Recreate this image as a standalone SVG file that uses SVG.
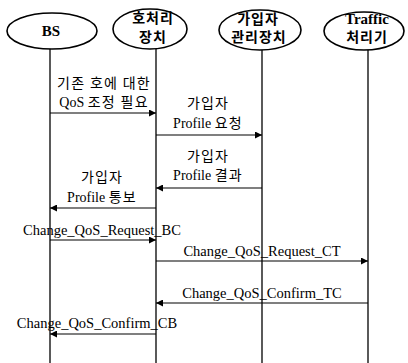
<svg xmlns="http://www.w3.org/2000/svg" width="408" height="363" viewBox="0 0 408 363">
<defs>
<marker id="ah" viewBox="0 0 10 10" refX="10" refY="5" markerWidth="9" markerHeight="7" markerUnits="userSpaceOnUse" orient="auto">
<path d="M0,0 L10,5 L0,10 z" fill="#000"/>
</marker>
</defs>
<style>
.node ellipse{fill:#fff;stroke:#000;stroke-width:1.6}
.life{stroke:#000;stroke-width:1.3;fill:none}
.msg{stroke:#000;stroke-width:1.1;fill:none;marker-end:url(#ah)}
text{font-family:"Liberation Serif","Noto Sans CJK KR",serif;fill:#000;text-anchor:middle}
.t{font-size:15px;font-weight:bold}
.tk{font-size:14px;font-weight:bold;letter-spacing:1px}
.k{font-size:14px;letter-spacing:1.2px}
.p{font-size:14px}
.ks{letter-spacing:1.2px}
.e{font-size:14.5px}
</style>
<rect width="408" height="363" fill="#fff"/>
<g id="bs" class="node">
<ellipse cx="52" cy="31" rx="45" ry="18"/>
<text class="t" x="51" y="36">BS</text>
<line class="life" x1="50" y1="49" x2="50" y2="363"/>
</g>
<g id="call" class="node">
<ellipse cx="150" cy="29" rx="37" ry="20"/>
<text class="tk" x="153" y="23">호처리</text>
<text class="tk" x="153" y="42">장치</text>
<line class="life" x1="156" y1="49" x2="156" y2="363"/>
</g>
<g id="sub" class="node">
<ellipse cx="260" cy="30" rx="41" ry="20"/>
<text class="tk" x="258" y="24">가입자</text>
<text class="tk" x="259" y="42">관리장치</text>
<line class="life" x1="262" y1="50" x2="262" y2="363"/>
</g>
<g id="traffic" class="node">
<ellipse cx="364" cy="31" rx="40" ry="19"/>
<text class="t" x="367" y="24">Traffic</text>
<text class="tk" x="367" y="42">처리기</text>
<line class="life" x1="368" y1="50" x2="368" y2="363"/>
</g>
<g id="connectors">
<line class="msg" x1="50" y1="113" x2="156" y2="113"/>
<text class="k" x="104" y="88">기존 호에 대한</text>
<text class="p" x="104" y="107">QoS <tspan class="ks">조정 필요</tspan></text>
<line class="msg" x1="156" y1="135" x2="262" y2="135"/>
<text class="k" x="208" y="108">가입자</text>
<text class="p" x="208" y="128">Profile <tspan class="ks">요청</tspan></text>
<line class="msg" x1="262" y1="188" x2="156" y2="188"/>
<text class="k" x="208" y="161">가입자</text>
<text class="p" x="208" y="180">Profile <tspan class="ks">결과</tspan></text>
<line class="msg" x1="156" y1="208" x2="50" y2="208"/>
<text class="k" x="102" y="182">가입자</text>
<text class="p" x="102" y="202">Profile <tspan class="ks">통보</tspan></text>
<line class="msg" x1="50" y1="240" x2="156" y2="240"/>
<text class="e" x="102" y="235">Change_QoS_Request_BC</text>
<line class="msg" x1="156" y1="261" x2="368" y2="261"/>
<text class="e" x="262" y="256">Change_QoS_Request_CT</text>
<line class="msg" x1="368" y1="303" x2="156" y2="303"/>
<text class="e" x="262" y="298">Change_QoS_Confirm_TC</text>
<line class="msg" x1="156" y1="334" x2="50" y2="334"/>
<text class="e" x="97" y="328">Change_QoS_Confirm_CB</text>
</g>
</svg>
